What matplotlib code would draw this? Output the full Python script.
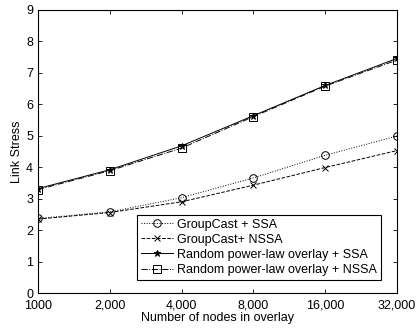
import numpy as np
import matplotlib
matplotlib.use("Agg")
import matplotlib.pyplot as plt

plt.rcParams['font.family'] = ['Liberation Sans', 'DejaVu Sans']

nodes = [1000, 2000, 4000, 8000, 16000, 32000]
tick_labels = ['1000', '2,000', '4,000', '8,000', '16,000', '32,000']
groupcast_ssa = [2.37, 2.58, 3.03, 3.66, 4.38, 4.99]
groupcast_nssa = [2.35, 2.56, 2.90, 3.43, 3.99, 4.53]
random_ssa = [3.32, 3.92, 4.68, 5.64, 6.60, 7.46]
random_nssa = [3.29, 3.89, 4.61, 5.61, 6.58, 7.41]

fig = plt.figure(figsize=(4.16, 3.28), dpi=100)
ax = fig.add_axes([38/416, 35/328, 359/416, 283/328])

x = np.log2(nodes)
ax.plot(x, groupcast_ssa, 'k:', marker='o', mfc='none', ms=5.5, lw=0.7, mew=0.7, label='GroupCast + SSA')
ax.plot(x, groupcast_nssa, 'k--', marker='x', ms=4, lw=0.7, mew=0.7, label='GroupCast+ NSSA')
ax.plot(x, random_ssa, 'k-', marker='*', ms=5, lw=0.7, mew=0.7, label='Random power-law overlay + SSA')
ax.plot(x, random_nssa, 'k-.', marker='s', mfc='none', ms=5.5, lw=0.7, mew=0.7, label='Random power-law overlay + NSSA')

ax.set_xlim(x[0], x[-1])
ax.set_ylim(0, 9)
ax.set_xticks(x)
ax.set_xticklabels(tick_labels)
ax.set_yticks(range(10))
ax.tick_params(direction='in', top=True, right=True, labelsize=9, length=3, width=0.6)
ax.tick_params(axis='x', pad=5)
for s in ax.spines.values():
    s.set_linewidth(0.8)
ax.set_xlabel('Number of nodes in overlay', fontsize=9, labelpad=0)
ax.set_ylabel('Link Stress', fontsize=9, labelpad=2)
leg = ax.legend(loc='lower right', bbox_to_anchor=(0.972, 0.025), fontsize=9,
                fancybox=False, edgecolor='black', framealpha=1,
                handlelength=2.6, borderpad=0.3, labelspacing=0.25, handletextpad=0.3)
leg.get_frame().set_linewidth(0.8)

fig.savefig('out.png', dpi=100)
